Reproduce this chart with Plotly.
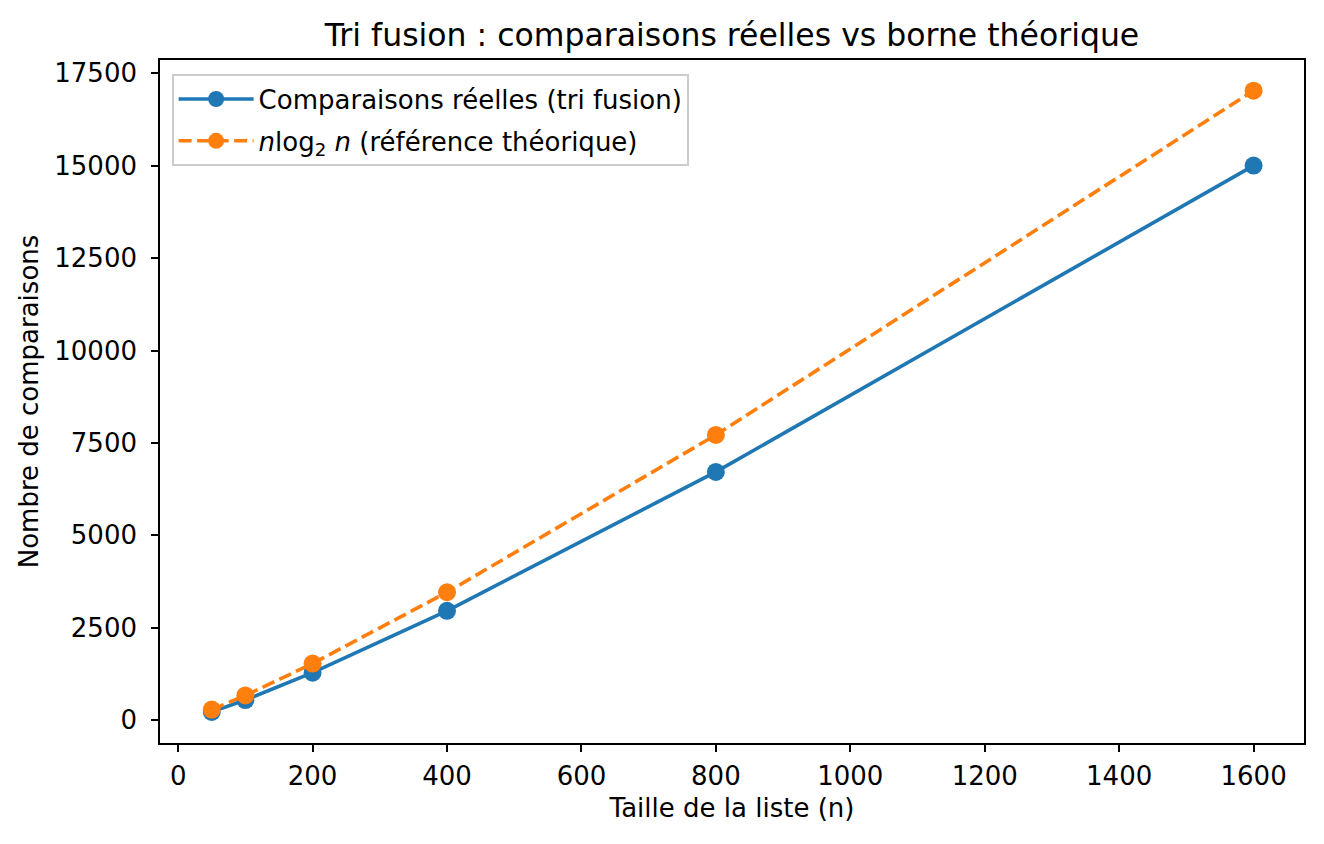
import plotly.graph_objects as go

# tailles de liste testées
tailles = [50, 100, 200, 400, 800, 1600]
# comparaisons mesurées (tri fusion)
comparaisons_reelles = [220, 540, 1280, 2955, 6715, 15005]
# référence théorique n log2 n
reference_theorique = [282, 664, 1529, 3458, 7715, 17031]

bleu = "#1f77b4"
orange = "#ff7f0e"
police = "DejaVu Sans, Liberation Sans, sans-serif"
taille_txt = 26

fig = go.Figure()

fig.add_trace(go.Scatter(
    x=tailles,
    y=comparaisons_reelles,
    mode="lines+markers",
    name="Comparaisons réelles (tri fusion)",
    legendgroup="reel",
    line=dict(color=bleu, width=3.6),
    marker=dict(color=bleu, size=18),
))

fig.add_trace(go.Scatter(
    x=tailles,
    y=reference_theorique,
    mode="lines+markers",
    name="<i>n</i>log<sub>2</sub> <i>n</i> (référence théorique)",
    legendgroup="theo",
    line=dict(color=orange, width=3.6, dash="13px,5.5px"),
    marker=dict(color=orange, size=18),
))

axe = dict(
    showgrid=False,
    zeroline=False,
    showline=True,
    linecolor="black",
    linewidth=1.6,
    mirror=True,
    ticks="outside",
    ticklen=7,
    tickwidth=1.6,
    tickcolor="black",
    tickfont=dict(size=taille_txt, color="black"),
)

# la page décale le graphique de 8 px (marge du body)
fig.update_layout(
    width=1324,
    height=844,
    paper_bgcolor="white",
    plot_bgcolor="white",
    font=dict(family=police, color="black", size=taille_txt),
    margin=dict(l=152, r=28, t=52, b=109),
    title=dict(
        text="Tri fusion : comparaisons réelles vs borne théorique",
        x=0.5, xref="paper", xanchor="center",
        y=1 - 27 / 844, yref="container", yanchor="middle",
        font=dict(size=31.5),
    ),
    xaxis=dict(
        axe,
        range=[-27, 1675],
        ticklabelstandoff=2,
        tickvals=[0, 200, 400, 600, 800, 1000, 1200, 1400, 1600],
        title=dict(text="Taille de la liste (n)", font=dict(size=taille_txt), standoff=9),
    ),
    yaxis=dict(
        axe,
        range=[-622, 17862],
        ticklabelstandoff=9,
        tickvals=[0, 2500, 5000, 7500, 10000, 12500, 15000, 17500],
        ticktext=["0", "2500", "5000", "7500", "10000", "12500", "15000", "17500"],
        title=dict(text="Nombre de comparaisons", font=dict(size=taille_txt), standoff=8),
    ),
    legend=dict(
        x=0.0105, y=0.9795, xanchor="left", yanchor="top",
        bgcolor="rgba(255,255,255,0.8)",
        bordercolor="#cccccc",
        borderwidth=1.6,
        itemwidth=75,
        traceorder="grouped",
        tracegroupgap=5,
        font=dict(size=taille_txt),
    ),
    showlegend=True,
)

fig.write_html("out.html")
